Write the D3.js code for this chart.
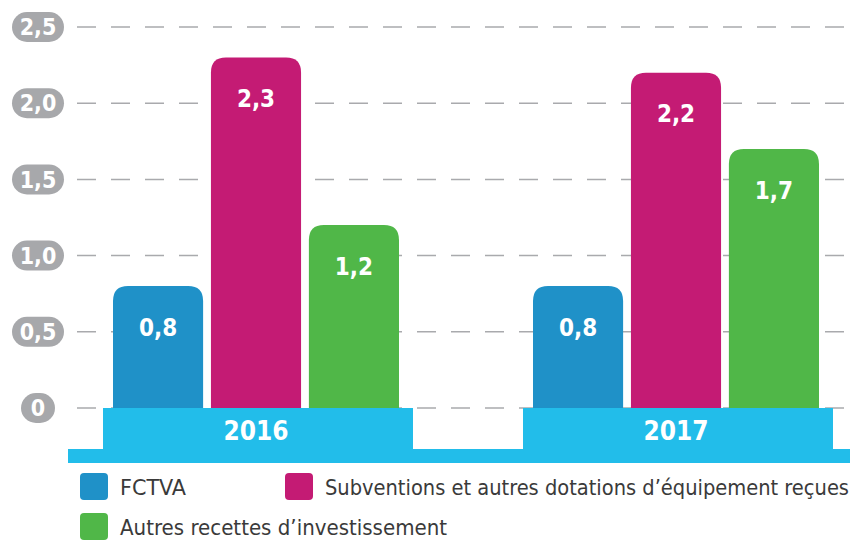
<!DOCTYPE html>
<html>
<head>
<meta charset="utf-8">
<script src="https://cdn.jsdelivr.net/npm/d3@7"></script>
<style>
  body { margin: 0; background: #fff; }
  svg { display: block; font-family: "DejaVu Sans Condensed", "DejaVu Sans", sans-serif; }
</style>
</head>
<body>
<div class="wrapper"></div>
<script>
// data
var years = ["2016", "2017"];
var seriesNames = ["FCTVA", "Subventions et autres dotations d\u2019\u00e9quipement re\u00e7ues", "Autres recettes d\u2019investissement"];
var fctva = [0.8, 0.8];
var subventions = [2.3, 2.2];
var autres = [1.2, 1.7];
var tickValues = [0, 0.5, 1.0, 1.5, 2.0, 2.5];
var tickLabels = ["0", "0,5", "1,0", "1,5", "2,0", "2,5"];
var colors = ["#1f91c8", "#c41b74", "#50b748"];

var svgWidth = 854;
var svgHeight = 541;
var bandColor = "#22bdea";
var gridColor = "#a9aaad";

var svg = d3.select(".wrapper").append("svg")
    .attr("width", svgWidth)
    .attr("height", svgHeight);

// scales
var y = d3.scaleLinear().domain([0, 2.5]).range([408, 27]);
var x0 = d3.scaleBand().domain(years).range([46, 886]);
var x1 = d3.scaleBand().domain(d3.range(3)).range([0, 286]).paddingInner(0.08);

function groupCenter(yr) {
    return x0(yr) + x0.bandwidth() / 2;
}

// dashed grid lines
svg.selectAll("line.grid")
    .data(tickValues)
    .enter()
    .append("line")
    .attr("class", "grid")
    .attr("x1", 77)
    .attr("x2", 854)
    .attr("y1", function(d) { return y(d); })
    .attr("y2", function(d) { return y(d); })
    .attr("stroke", gridColor)
    .attr("stroke-width", 1.5)
    .attr("stroke-dasharray", "19,15");

// y tick badges
var tick = svg.selectAll("g.tick")
    .data(tickValues)
    .enter()
    .append("g")
    .attr("class", "tick")
    .attr("transform", function(d) { return "translate(38," + y(d) + ")"; });

tick.append("rect")
    .attr("x", function(d, i) { return tickLabels[i].length > 1 ? -26 : -17; })
    .attr("y", -15)
    .attr("width", function(d, i) { return tickLabels[i].length > 1 ? 52 : 34; })
    .attr("height", 30)
    .attr("rx", 15)
    .attr("fill", "#a7a8ab");

tick.append("text")
    .attr("text-anchor", "middle")
    .attr("dy", "0.36em")
    .attr("fill", "#fff")
    .attr("font-weight", "bold")
    .attr("font-size", 23)
    .text(function(d, i) { return tickLabels[i]; });

// bars with rounded tops
var barData = [];
years.forEach(function(yr, j) {
    [fctva, subventions, autres].forEach(function(s, k) {
        barData.push({ year: yr, k: k, value: s[j] });
    });
});

function topRounded(x, yTop, w, h, r) {
    return "M" + x + "," + (yTop + h) +
        "V" + (yTop + r) +
        "Q" + x + "," + yTop + " " + (x + r) + "," + yTop +
        "H" + (x + w - r) +
        "Q" + (x + w) + "," + yTop + " " + (x + w) + "," + (yTop + r) +
        "V" + (yTop + h) + "Z";
}

function barX(d) {
    return groupCenter(d.year) - 143 + x1(d.k);
}

svg.selectAll("path.bar")
    .data(barData)
    .enter()
    .append("path")
    .attr("class", "bar")
    .attr("fill", function(d) { return colors[d.k]; })
    .attr("d", function(d) {
        return topRounded(barX(d), y(d.value), x1.bandwidth(), y(0) - y(d.value), 15);
    });

svg.selectAll("text.value")
    .data(barData)
    .enter()
    .append("text")
    .attr("class", "value")
    .attr("x", function(d) { return barX(d) + x1.bandwidth() / 2; })
    .attr("y", function(d) { return y(d.value) + 41; })
    .attr("dy", "0.36em")
    .attr("text-anchor", "middle")
    .attr("fill", "#fff")
    .attr("font-weight", "bold")
    .attr("font-size", 24)
    .text(function(d) { return String(d.value).replace(".", ","); });

// year bands under the bars
svg.append("rect")
    .attr("x", 68)
    .attr("y", 449)
    .attr("width", 782)
    .attr("height", 14)
    .attr("fill", bandColor);

svg.selectAll("rect.year")
    .data(years)
    .enter()
    .append("rect")
    .attr("class", "year")
    .attr("x", function(d) { return groupCenter(d) - 153; })
    .attr("y", y(0))
    .attr("width", 310)
    .attr("height", 42)
    .attr("fill", bandColor);

svg.selectAll("text.year")
    .data(years)
    .enter()
    .append("text")
    .attr("class", "year")
    .attr("x", function(d) { return groupCenter(d); })
    .attr("y", 431)
    .attr("dy", "0.36em")
    .attr("text-anchor", "middle")
    .attr("fill", "#fff")
    .attr("font-weight", "bold")
    .attr("font-size", 26)
    .text(function(d) { return d; });

// legend
var legendPos = [[80, 473], [285, 473], [80, 513]];
var legendTextWidth = [66, 524, 327];
var legend = svg.selectAll("g.legend")
    .data(seriesNames)
    .enter()
    .append("g")
    .attr("class", "legend")
    .attr("transform", function(d, i) { return "translate(" + legendPos[i][0] + "," + legendPos[i][1] + ")"; });

legend.append("rect")
    .attr("width", 28)
    .attr("height", 27)
    .attr("rx", 4)
    .attr("fill", function(d, i) { return colors[i]; });

legend.append("text")
    .attr("x", 40)
    .attr("y", 14)
    .attr("dy", "0.36em")
    .attr("fill", "#3a3a3a")
    .attr("font-size", 21)
    .attr("textLength", function(d, i) { return legendTextWidth[i]; })
    .attr("lengthAdjust", "spacingAndGlyphs")
    .text(function(d) { return d; });
</script>
</body>
</html>
